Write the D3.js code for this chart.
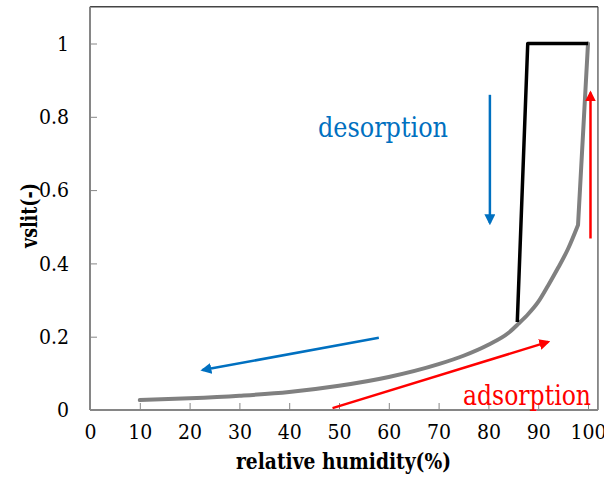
<!DOCTYPE html>
<html>
<head>
<meta charset="utf-8">
<script src="https://cdn.jsdelivr.net/npm/d3@7"></script>
<style>
  html, body { margin: 0; padding: 0; background: #fff; }
</style>
</head>
<body>
<div id="chart"></div>
<script>
// adsorption curve (grey)
const rhAds = [10, 20, 30, 40, 50, 60, 70, 75, 80, 84, 86, 88, 90, 92, 94, 96, 98, 100];
const vslitAds = [0.027, 0.032, 0.039, 0.049, 0.066, 0.09, 0.125, 0.148, 0.178, 0.21, 0.235, 0.262, 0.295, 0.34, 0.388, 0.44, 0.505, 1.0];

// desorption path (black)
const rhDes = [85.8, 87.9, 100];
const vslitDes = [0.24, 1.0, 1.0];

const xTicks = [0, 10, 20, 30, 40, 50, 60, 70, 80, 90, 100];
const yTicks = [0, 0.2, 0.4, 0.6, 0.8, 1];

// annotation arrows: [x1, y1, x2, y2] in data units, tip at the end
const blueArrows = [[80.3, 0.86, 80.3, 0.51], [58.0, 0.197, 22.6, 0.109]];
const redArrows = [[48.7, 0.005, 92.0, 0.186], [100.5, 0.468, 100.5, 0.866]];

const width = 604;
const height = 481;
const serif = '"DejaVu Serif Condensed", "DejaVu Serif", serif';

const svg = d3.select('#chart')
  .append('svg')
  .attr('width', width)
  .attr('height', height)
  .attr('font-family', serif);

const x = d3.scaleLinear().domain([0, 100]).range([90, 588]);
const y = d3.scaleLinear().domain([0, 1]).range([410, 43.5]);

const xMax = 102, yMax = 1.1;

const defs = svg.append('defs');
const addMarker = (id, color) => {
  defs.append('marker')
    .attr('id', id)
    .attr('viewBox', '0 0 10 10')
    .attr('refX', 8).attr('refY', 5)
    .attr('markerWidth', 11).attr('markerHeight', 11)
    .attr('markerUnits', 'userSpaceOnUse')
    .attr('orient', 'auto')
    .append('path')
    .attr('d', 'M0,0 L10,5 L0,10 Z')
    .attr('fill', color);
};
addMarker('head-blue', '#0070C0');
addMarker('head-red', '#FF0000');

// frame: top and right
svg.append('line')
  .attr('x1', x(0)).attr('x2', x(xMax))
  .attr('y1', y(yMax)).attr('y2', y(yMax))
  .attr('stroke', '#444').attr('stroke-width', 1.5);
svg.append('line')
  .attr('x1', x(xMax)).attr('x2', x(xMax))
  .attr('y1', y(yMax)).attr('y2', y(0))
  .attr('stroke', '#222').attr('stroke-width', 1);

// X axis
svg.append('g')
  .attr('transform', `translate(0,${y(0)})`)
  .call(d3.axisBottom(x).tickValues(xTicks).tickSize(-7).tickPadding(14).tickFormat(d3.format('d')))
  .attr('font-family', serif)
  .call(g => g.select('.domain').attr('d', `M${x(0)},0H${x(xMax)}`).attr('stroke', '#868686').attr('stroke-width', 2))
  .call(g => g.selectAll('.tick line').attr('stroke', '#868686').attr('stroke-width', 1))
  .call(g => g.selectAll('.tick').filter(d => d === 0).select('line').remove())
  .call(g => g.selectAll('.tick text')
    .attr('fill', '#000')
    .style('font-size', '21px'));

// Y axis
svg.append('g')
  .attr('transform', `translate(${x(0)},0)`)
  .call(d3.axisLeft(y).tickValues(yTicks).tickSize(-7).tickPadding(21).tickFormat(d => String(d)))
  .attr('font-family', serif)
  .call(g => g.select('.domain').attr('d', `M0,${y(0)}V${y(yMax)}`).attr('stroke', '#868686').attr('stroke-width', 2))
  .call(g => g.selectAll('.tick line').attr('stroke', '#868686').attr('stroke-width', 1))
  .call(g => g.selectAll('.tick').filter(d => d === 0).select('line').remove())
  .call(g => g.selectAll('.tick text')
    .attr('fill', '#000')
    .style('font-size', '21px'));

// axis titles
svg.append('text')
  .attr('x', 236).attr('y', 469)
  .attr('textLength', 215)
  .attr('lengthAdjust', 'spacingAndGlyphs')
  .style('font-size', '22px')
  .style('font-weight', 'bold')
  .text('relative humidity(%)');

svg.append('text')
  .attr('transform', 'translate(37,248) rotate(-90)')
  .attr('textLength', 65)
  .attr('lengthAdjust', 'spacingAndGlyphs')
  .style('font-size', '22px')
  .style('font-weight', 'bold')
  .text('vslit(-)');

// grey curve: smooth up to 98 %, then straight up to 100 %
const adsPts = rhAds.map((r, i) => [r, vslitAds[i]]);
const smoothLine = d3.line().x(d => x(d[0])).y(d => y(d[1])).curve(d3.curveMonotoneX);
const line = d3.line().x(d => x(d[0])).y(d => y(d[1]));

svg.append('path')
  .attr('d', smoothLine(adsPts.slice(0, -1)) + line(adsPts.slice(-2)).replace(/^M/, 'L'))
  .attr('fill', 'none')
  .attr('stroke', '#808080')
  .attr('stroke-width', 4)
  .attr('stroke-linejoin', 'round')
  .attr('stroke-linecap', 'round');

svg.append('path')
  .datum(rhDes.map((r, i) => [r, vslitDes[i]]))
  .attr('d', line)
  .attr('fill', 'none')
  .attr('stroke', '#000')
  .attr('stroke-width', 3.5)
  .attr('stroke-linejoin', 'round');

// arrows
const drawArrows = (data, color, marker) => {
  svg.selectAll(null)
    .data(data)
    .join('line')
    .attr('x1', d => x(d[0])).attr('y1', d => y(d[1]))
    .attr('x2', d => x(d[2])).attr('y2', d => y(d[3]))
    .attr('stroke', color)
    .attr('stroke-width', 2.5)
    .attr('marker-end', `url(#${marker})`);
};
drawArrows(blueArrows, '#0070C0', 'head-blue');
drawArrows(redArrows, '#FF0000', 'head-red');

// labels
svg.append('text')
  .attr('x', 318).attr('y', 137)
  .attr('textLength', 130)
  .attr('lengthAdjust', 'spacingAndGlyphs')
  .attr('fill', '#0070C0')
  .style('font-size', '28px')
  .text('desorption');

svg.append('text')
  .attr('x', 463).attr('y', 405)
  .attr('textLength', 128)
  .attr('lengthAdjust', 'spacingAndGlyphs')
  .attr('fill', '#FF0000')
  .style('font-size', '28px')
  .text('adsorption');
</script>
</body>
</html>
